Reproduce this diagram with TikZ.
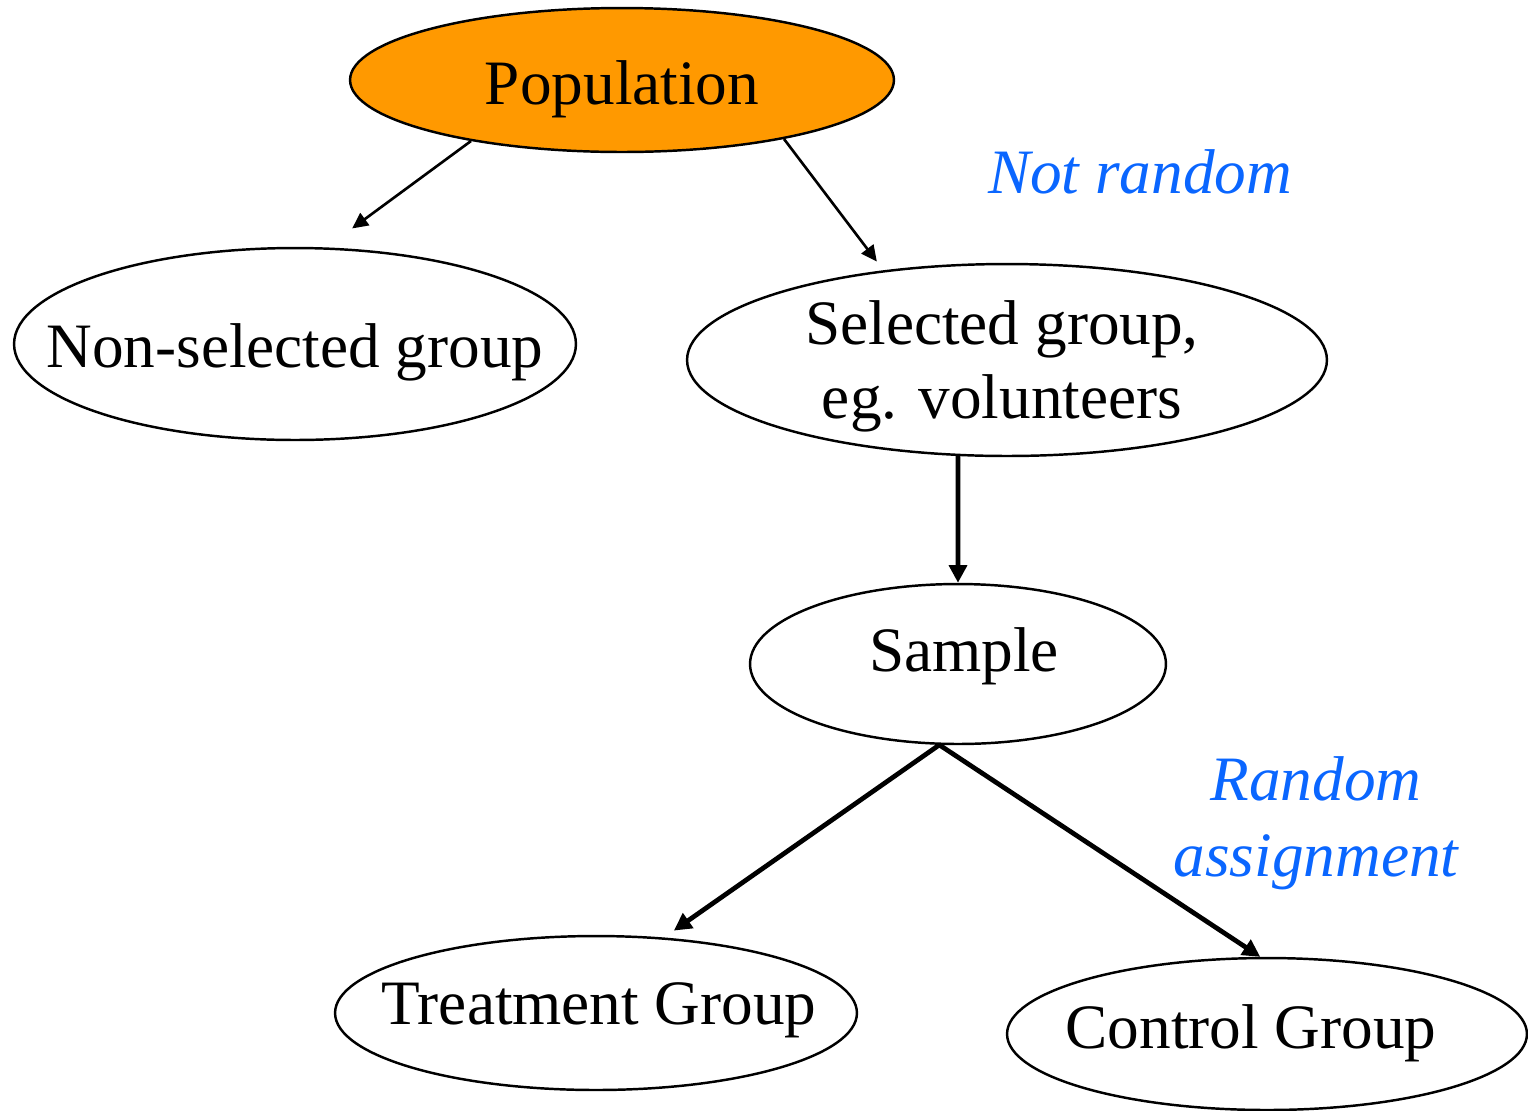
\documentclass[tikz,border=0pt]{standalone}
\usepackage{fontspec}
\setmainfont{Liberation Serif}
\usetikzlibrary{shapes.geometric,arrows.meta}
\definecolor{poporange}{HTML}{FF9900}
\definecolor{noteblue}{HTML}{0A66FF}

\begin{document}
\begin{tikzpicture}[x=0.02cm, y=-0.02cm,
    enode/.style={draw, ellipse, line width=1.4pt, inner sep=0pt},
    tnode/.style={anchor=base, inner sep=0pt, align=center, font=\fontsize{36}{42}\selectfont},
    bnode/.style={tnode, text=noteblue, font=\fontsize{36}{43}\selectfont\itshape},
    larrow/.style={line width=1.5pt, -{Triangle[length=9pt,width=8.5pt]}},
    harrow/.style={line width=2.7pt, -{Triangle[length=10pt,width=10pt]}}]
    \useasboundingbox (0,0) rectangle (1528,1110);

    \node[enode, fill=poporange, minimum width=10.88cm, minimum height=2.88cm] (pop) at (622,80) {};
    \node[enode, minimum width=11.24cm, minimum height=3.84cm] (nonsel) at (295,344) {};
    \node[enode, minimum width=12.8cm, minimum height=3.84cm] (sel) at (1007,360) {};
    \node[enode, minimum width=8.32cm, minimum height=3.2cm] (sample) at (958,664) {};
    \node[enode, minimum width=10.44cm, minimum height=3.08cm] (treat) at (596,1013) {};
    \node[enode, minimum width=10.4cm, minimum height=3.04cm] (ctrl) at (1267,1034) {};

    \node[tnode] (poptxt) at (622,104) {Population};
    \node[tnode] (nonseltxt) at (295,367) {Non-selected group};
    \node[tnode] (seltxt) at (1002,418) {Selected group,\\eg. volunteers};
    \node[tnode] (sampletxt) at (964,671) {Sample};
    \node[tnode] (treattxt) at (599,1024) {Treatment Group};
    \node[tnode] (ctrltxt) at (1251,1048) {Control Group};

    \node[bnode] (notrand) at (1140,193) {Not random};
    \node[bnode] (randasg) at (1316,876) {Random\\assignment};

    \draw[larrow, shorten >=0.64cm] (pop.202) -- (nonsel.72);
    \draw[larrow, shorten >=0.22cm] (pop.340) -- (sel.144);

   \begin{scope}[harrow]
    \draw (sel.243) -- (sample.north);
    \draw[shorten >=0.24cm] (sample.257) -- (treat.48);
    \draw (sample.257) -- (ctrl.95);
   \end{scope}

\end{tikzpicture}
\end{document}
